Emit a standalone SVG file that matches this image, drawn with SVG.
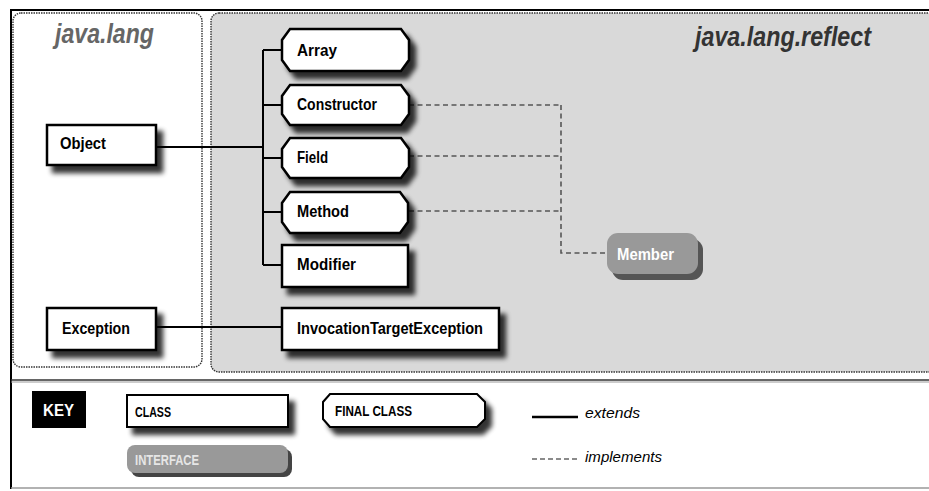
<svg xmlns="http://www.w3.org/2000/svg" width="929" height="491" viewBox="0 0 929 491">
<style>
.node{fill:#fff;stroke:#000;stroke-width:2.5}
.iface{fill:#999;stroke:none}
.lbl{font-family:"Liberation Sans",Arial,sans-serif;font-weight:bold;font-size:17px;fill:#000}
.klbl{font-family:"Liberation Sans",Arial,sans-serif;font-weight:bold;font-size:14px;fill:#000}
.ext{fill:none;stroke:#000;stroke-width:2}
.imp{fill:none;stroke:#555;stroke-width:1.6;stroke-dasharray:5 3.5}
.pkg{font-family:"Liberation Sans",Arial,sans-serif;font-weight:bold;font-style:italic;font-size:28px}
.key{font-family:"Liberation Sans",Arial,sans-serif;font-style:italic;font-size:15px;fill:#000}
.box{stroke:#333;stroke-width:1.4;stroke-dasharray:1.5 1}
</style>
<defs>
<filter id="sh" x="-20%" y="-30%" width="150%" height="190%">
<feGaussianBlur in="SourceAlpha" stdDeviation="2.5"/>
<feOffset dx="6" dy="7" result="b"/>
<feComponentTransfer in="b" result="s"><feFuncA type="linear" slope="0.8"/></feComponentTransfer>
<feMerge><feMergeNode in="s"/><feMergeNode in="SourceGraphic"/></feMerge>
</filter>
</defs>
<rect x="0" y="0" width="929" height="491" fill="#fff"/>
<!-- frame -->
<line x1="10" y1="10" x2="929" y2="10" stroke="#000" stroke-width="2"/>
<line x1="11" y1="10" x2="11" y2="489" stroke="#000" stroke-width="2"/>
<line x1="11" y1="380" x2="929" y2="380" stroke="#333" stroke-width="1.5"/>
<line x1="11" y1="382" x2="929" y2="382" stroke="#999" stroke-width="1"/>
<line x1="11" y1="488" x2="929" y2="488" stroke="#999" stroke-width="1.5"/>
<!-- packages -->
<g id="pkg-lang">
<rect class="box" x="13" y="13" width="189" height="354" rx="8" fill="#fff"/>
<text class="pkg" x="55" y="43" fill="#666" textLength="99" lengthAdjust="spacingAndGlyphs">java.lang</text>
</g>
<g id="pkg-reflect">
<rect class="box" x="211" y="13" width="730" height="359" rx="8" fill="#d9d9d9"/>
<text class="pkg" x="695" y="46" fill="#333" textLength="176" lengthAdjust="spacingAndGlyphs">java.lang.reflect</text>
</g>
<!-- connectors -->
<g id="connectors">
<path class="ext" d="M156 147 H263 M263 50 V265 M263 50 H282 M263 105 H282 M263 158 H282 M263 212 H282 M263 265 H282"/>
<path class="ext" d="M156 327 H282"/>
<path class="imp" d="M409 105 H561 M409 156 H561 M409 211 H561 M561 105 V253 H607"/>
</g>
<!-- nodes -->
<g id="Object"><rect class="node" x="47" y="125" width="109" height="40" filter="url(#sh)"/><text class="lbl" x="60" y="149" textLength="46" lengthAdjust="spacingAndGlyphs">Object</text></g>
<g id="Exception"><rect class="node" x="47" y="308" width="109" height="42" filter="url(#sh)"/><text class="lbl" x="62" y="334" textLength="68" lengthAdjust="spacingAndGlyphs">Exception</text></g>
<g id="Array"><path class="node" filter="url(#sh)" d="M290 29 H401 L409 40 V60 L401 71 H290 L282 60 V40 Z"/><text class="lbl" x="297" y="56" textLength="40" lengthAdjust="spacingAndGlyphs">Array</text></g>
<g id="Constructor"><path class="node" filter="url(#sh)" d="M290 85 H401 L409 96 V114 L401 125 H290 L282 114 V96 Z"/><text class="lbl" x="297" y="110" textLength="80" lengthAdjust="spacingAndGlyphs">Constructor</text></g>
<g id="Field"><path class="node" filter="url(#sh)" d="M290 138 H401 L409 149 V167 L401 178 H290 L282 167 V149 Z"/><text class="lbl" x="297" y="163" textLength="31" lengthAdjust="spacingAndGlyphs">Field</text></g>
<g id="Method"><path class="node" filter="url(#sh)" d="M290 192 H400 L408 203 V222 L400 233 H290 L282 222 V203 Z"/><text class="lbl" x="297" y="217" textLength="52" lengthAdjust="spacingAndGlyphs">Method</text></g>
<g id="Modifier"><rect class="node" x="282" y="245" width="126" height="42" filter="url(#sh)"/><text class="lbl" x="297" y="270" textLength="59" lengthAdjust="spacingAndGlyphs">Modifier</text></g>
<g id="InvocationTargetException"><rect class="node" x="282" y="308" width="217" height="42" filter="url(#sh)"/><text class="lbl" x="297" y="334" textLength="186" lengthAdjust="spacingAndGlyphs">InvocationTargetException</text></g>
<g id="Member"><rect x="612" y="239" width="91" height="41" rx="11" fill="#555"/><rect class="iface" x="607" y="233" width="91" height="41" rx="11"/><text class="lbl" x="617" y="260" style="fill:#fff" textLength="57" lengthAdjust="spacingAndGlyphs">Member</text></g>
<!-- key -->
<g id="key">
<rect x="32" y="391" width="54" height="37" fill="#000"/>
<text class="klbl" x="43" y="416" style="fill:#fff;font-size:16px" textLength="31" lengthAdjust="spacingAndGlyphs">KEY</text>
<rect class="node" x="127" y="395" width="161" height="32" style="stroke-width:2" filter="url(#sh)"/>
<text class="klbl" x="135" y="417" textLength="36" lengthAdjust="spacingAndGlyphs">CLASS</text>
<rect x="131" y="449" width="161" height="28" rx="8" fill="#444"/>
<rect class="iface" x="127" y="445" width="161" height="28" rx="8"/>
<text class="klbl" x="135" y="465" style="fill:#e6e6e6" textLength="64" lengthAdjust="spacingAndGlyphs">INTERFACE</text>
<path class="node" style="stroke-width:2" filter="url(#sh)" d="M330 394 H477 L485 402 V419 L477 427 H330 L323 419 V402 Z"/>
<text class="klbl" x="335" y="416" textLength="77" lengthAdjust="spacingAndGlyphs">FINAL CLASS</text>
<line x1="532" y1="417" x2="578" y2="417" stroke="#000" stroke-width="2.5"/>
<text class="key" x="585" y="418" textLength="55" lengthAdjust="spacingAndGlyphs">extends</text>
<line x1="532" y1="459" x2="578" y2="459" stroke="#666" stroke-width="1.5" stroke-dasharray="5 3"/>
<text class="key" x="585" y="462" textLength="77" lengthAdjust="spacingAndGlyphs">implements</text>
</g>
</svg>
